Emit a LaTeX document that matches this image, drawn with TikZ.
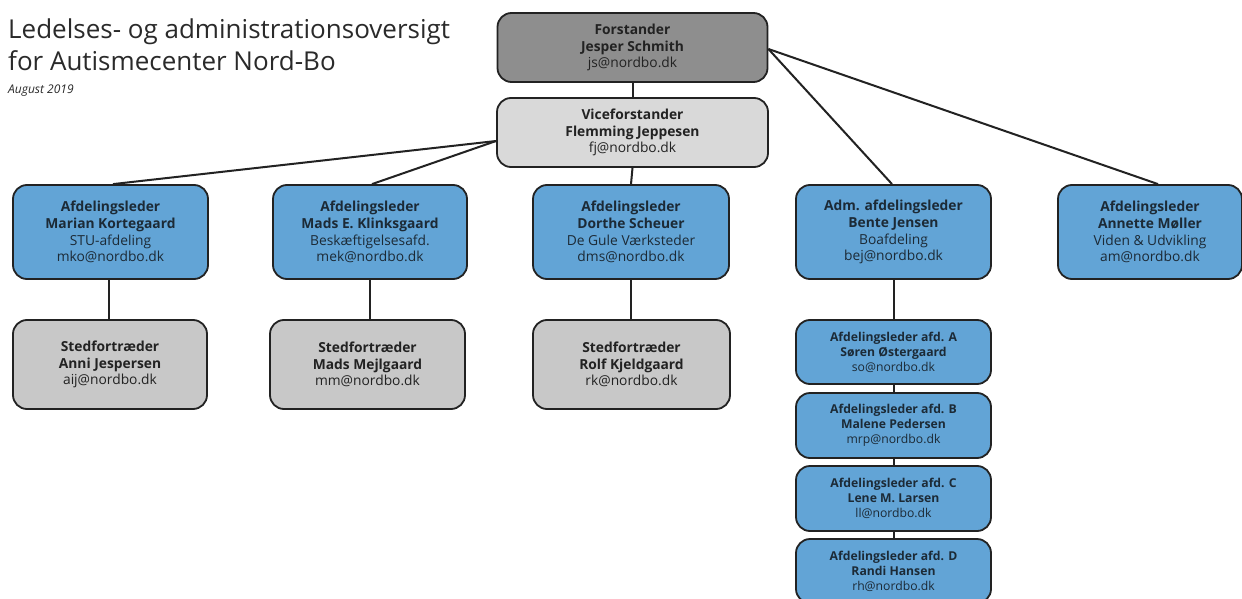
\documentclass[tikz,border=0pt]{standalone}
\usepackage{fontspec}
\setmainfont{Open Sans}
\definecolor{boxblue}{HTML}{62A4D6}
\definecolor{boxgrey}{HTML}{C8C8C8}
\definecolor{dkgrey}{HTML}{8E8E8E}
\definecolor{ltgrey}{HTML}{D9D9D9}
\definecolor{edge}{HTML}{222222}
\definecolor{bluetext}{HTML}{1C2A36}
\definecolor{titletext}{HTML}{2A2A2A}
\tikzset{
  box/.style={draw=edge, line width=1.8pt, rounded corners=14pt, align=center,
    font=\fontsize{13.8}{16.8}\selectfont, inner sep=0pt},
  bluebox/.style={box, fill=boxblue, text=bluetext},
  greybox/.style={box, fill=boxgrey, text=edge},
  smallbox/.style={bluebox, font=\fontsize{12.2}{15}\selectfont},
  conn/.style={draw=edge, line width=2pt},
}
\begin{document}
\begin{tikzpicture}[x=1pt,y=-1pt]
\useasboundingbox[fill=white] (0,0) rectangle (1242,599);
\node[anchor=base west, text=titletext, font=\fontsize{26}{32}\selectfont, inner sep=0pt] (t1) at (8,39) {Ledelses- og administrationsoversigt};
\node[anchor=base west, text=titletext, font=\fontsize{26}{32}\selectfont, inner sep=0pt] (t2) at (8,71) {for Autismecenter Nord-Bo};
\node[anchor=base west, text=titletext, font=\fontsize{12}{14}\itshape, inner sep=0pt] (t3) at (8,94) {August 2019};

\node[box, fill=dkgrey, text=edge, minimum width=270pt, minimum height=69pt] (fo) at (632.5,47.5) {\textbf{Forstander}\\\textbf{Jesper Schmith}\\js@nordbo.dk};
\node[box, fill=ltgrey, text=edge, minimum width=271pt, minimum height=69pt] (vi) at (632.5,132.5) {\textbf{Viceforstander}\\\textbf{Flemming Jeppesen}\\fj@nordbo.dk};

\node[bluebox, minimum width=195pt, minimum height=94pt] (b1) at (110.5,232) {\textbf{Afdelingsleder}\\\textbf{Marian Kortegaard}\\STU-afdeling\\mko@nordbo.dk};
\node[bluebox, minimum width=194pt, minimum height=94pt] (b2) at (370,232) {\textbf{Afdelingsleder}\\\textbf{Mads E. Klinksgaard}\\Beskæftigelsesafd.\\mek@nordbo.dk};
\node[bluebox, minimum width=196pt, minimum height=94pt] (b3) at (631,232) {\textbf{Afdelingsleder}\\\textbf{Dorthe Scheuer}\\De Gule Værksteder\\dms@nordbo.dk};
\node[bluebox, minimum width=195pt, minimum height=94pt] (b4) at (893.5,232) {\textbf{Adm. afdelingsleder}\\\textbf{Bente Jensen}\\Boafdeling\\bej@nordbo.dk};
\node[bluebox, minimum width=184pt, minimum height=94pt] (b5) at (1150,232) {\textbf{Afdelingsleder}\\\textbf{Annette Møller}\\Viden \& Udvikling\\am@nordbo.dk};

\node[greybox, minimum width=194pt, minimum height=89pt] (g1) at (110,364.5) {\textbf{Stedfortræder}\\\textbf{Anni Jespersen}\\aij@nordbo.dk};
\node[greybox, minimum width=195pt, minimum height=89pt] (g2) at (367.5,364.5) {\textbf{Stedfortræder}\\\textbf{Mads Mejlgaard}\\mm@nordbo.dk};
\node[greybox, minimum width=197pt, minimum height=89pt] (g3) at (631.5,364.5) {\textbf{Stedfortræder}\\\textbf{Rolf Kjeldgaard}\\rk@nordbo.dk};

\node[smallbox, minimum width=195pt, minimum height=64pt] (da) at (893.5,352) {\textbf{Afdelingsleder afd. A}\\\textbf{Søren Østergaard}\\so@nordbo.dk};
\node[smallbox, minimum width=195pt, minimum height=65pt] (db) at (893.5,425.5) {\textbf{Afdelingsleder afd. B}\\\textbf{Malene Pedersen}\\mrp@nordbo.dk};
\node[smallbox, minimum width=195pt, minimum height=65pt] (dc) at (893.5,498.5) {\textbf{Afdelingsleder afd. C}\\\textbf{Lene M. Larsen}\\ll@nordbo.dk};
\node[smallbox, minimum width=195pt, minimum height=64pt] (dd) at (893.5,571) {\textbf{Afdelingsleder afd. D}\\\textbf{Randi Hansen}\\rh@nordbo.dk};

\draw[conn] (fo.south) -- (vi.north);
\draw[conn] ([yshift=-8.5pt]vi.west) -- ([xshift=2.5pt]b1.north);
\draw[conn] ([yshift=-8.5pt]vi.west) -- ([xshift=2pt]b2.north);
\draw[conn] (vi.south) -- (b3.north);
\draw[conn] ([yshift=-1.5pt]fo.east) -- ([xshift=-1.5pt]b4.north);
\draw[conn] ([yshift=-1.5pt]fo.east) -- ([xshift=8pt]b5.north);
\draw[conn] ([xshift=-2pt]b1.south) -- ([xshift=-2pt]b1.south |- g1.north);
\draw[conn] (g2.north -| b2.south) -- (b2.south);
\draw[conn] (b3.south) -- (b3.south |- g3.north);
\draw[conn] (b4.south) -- (da.north);
\draw[conn] (da.south) -- (db.north);
\draw[conn] (db.south) -- (dc.north);
\draw[conn] (dc.south) -- (dd.north);
\end{tikzpicture}
\end{document}
